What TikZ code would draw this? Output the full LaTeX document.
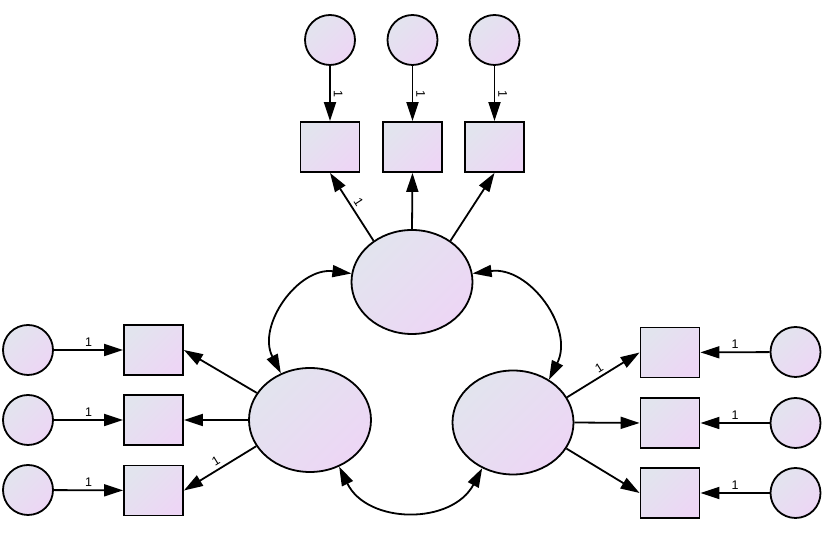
\documentclass[tikz,border=0pt]{standalone}
\usepackage{fontspec}
\setmainfont{Liberation Sans}
\usetikzlibrary{arrows.meta,shapes.geometric}
\definecolor{gA}{RGB}{226,228,238}
\definecolor{gB}{RGB}{237,214,245}
\begin{document}
\begin{tikzpicture}[x=1pt,y=1pt,
  fillg/.style={top color=gA,bottom color=gB,shading angle=45,draw=black,line width=1.8pt},
  err/.style={fillg,circle,minimum size=50pt,inner sep=0pt},
  obs/.style={fillg,rectangle,minimum width=59pt,minimum height=50pt,inner sep=0pt},
  lat/.style={fillg,ellipse,minimum width=121pt,minimum height=104pt,inner sep=0pt},
  arr/.style={line width=1.8pt,-{Triangle[length=19pt,width=12pt]}},
  dbl/.style={line width=1.8pt,{Triangle[length=19pt,width=12pt]}-{Triangle[length=19pt,width=12pt]}},
  lab/.style={font=\fontsize{12.5}{13}\selectfont,sloped,above,inner sep=3pt}]
\useasboundingbox (0,0) rectangle (825,553);
% top
\node[err] (e1) at (330,513) {};
\node[err] (e2) at (412.5,513) {};
\node[err] (e3) at (494.5,513) {};
\node[obs] (t1) at (330,406) {};
\node[obs] (t2) at (412.5,406) {};
\node[obs] (t3) at (494.5,406) {};
\node[lat] (F1) at (412,271) {};
% left
\node[err] (le1) at (28,203) {};
\node[err] (le2) at (28,133) {};
\node[err] (le3) at (28,63) {};
\node[obs] (l1) at (153.5,203) {};
\node[obs] (l2) at (153.5,133) {};
\node[obs] (l3) at (153.5,62.5) {};
\node[lat,minimum width=122pt] (F2) at (310,133) {};
% right
\node[err] (re1) at (795.5,201) {};
\node[err] (re2) at (795.5,130) {};
\node[err] (re3) at (795.5,60) {};
\node[obs] (r1) at (670,200.5) {};
\node[obs] (r2) at (670,130) {};
\node[obs] (r3) at (670,60) {};
\node[lat] (F3) at (513,130.5) {};
% error arrows
\draw[arr] (e1) -- (t1) node[lab,pos=0.5] {1};
\draw[arr] (e2) -- (t2) node[lab,pos=0.5] {1};
\draw[arr] (e3) -- (t3) node[lab,pos=0.5] {1};
\draw[arr] (le1) -- (l1) node[lab,pos=0.5] {1};
\draw[arr] (le2) -- (l2) node[lab,pos=0.5] {1};
\draw[arr] (le3) -- (l3) node[lab,pos=0.5] {1};
\draw[arr] (re1) -- (r1) node[lab,pos=0.5] {1};
\draw[arr] (re2) -- (r2) node[lab,pos=0.5] {1};
\draw[arr] (re3) -- (r3) node[lab,pos=0.5] {1};
% loadings
\draw[arr] (F1.133) -- (t1.south) node[lab,pos=0.5] {1};
\draw[arr] (F1.north) -- (t2.south);
\draw[arr] (F1.47) -- (t3.south);
\draw[arr] (F2.153) -- (l1.east);
\draw[arr] (F2.west) -- (l2.east);
\draw[arr] (F2.206) -- (l3.east) node[lab,pos=0.5] {1};
\draw[arr] (F3.25) -- (r1.west) node[lab,pos=0.5] {1};
\draw[arr] (F3.east) -- (r2.west);
\draw[arr] (F3.-26) -- (r3.west);
% covariances
\draw[dbl] (F1.172) to[out=173,in=117,looseness=1.12] (F2.122);
\draw[dbl] (F1.8) to[out=7.6,in=63.4,looseness=1.12] (F3.50);
\draw[dbl] (F2.-58) to[out=296,in=242,looseness=1.15] (F3.236);
\end{tikzpicture}
\end{document}
